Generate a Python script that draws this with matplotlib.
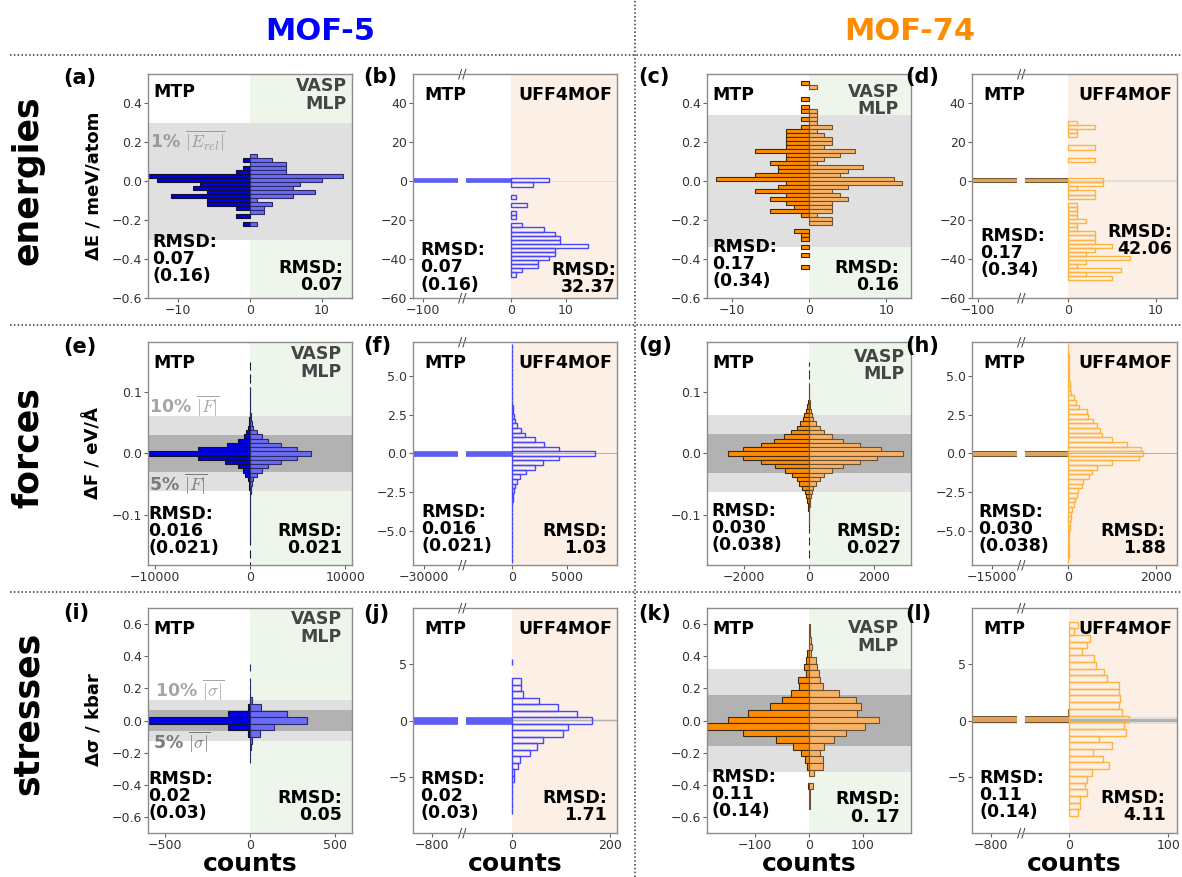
import numpy as np
import matplotlib
matplotlib.use("Agg")
import matplotlib.pyplot as plt
from matplotlib.patches import Rectangle
from matplotlib.lines import Line2D

plt.rcParams['font.family'] = 'DejaVu Sans'
plt.rcParams['mathtext.fontset'] = 'cm'

# ---------------- data (counts per bin, top bin first) ----------------
# MOF-5 energies (meV/atom)
a_top, a_w = 0.1385, 0.0205
a_mtp = [0, 1, 0, 1, 2, 16, 13, 7, 8, 6, 11, 6, 6, 2, 0, 2, 0, 1]
a_vasp = [1, 3, 5, 5, 5, 13, 10, 7, 6, 9, 6, 1, 3, 2, 2, 0, 0, 1]
b_top, b_w = 1.4, 2.1
b_uff = [7, 4, 0, 0, 1, 0, 3, 0, 1, 1, 0, 2, 6, 8, 9, 9, 14, 8, 8, 7, 5, 5, 2, 1]
b_mtp = [200]
# MOF-74 energies
c_top, c_w = 0.5125, 0.0205
c_mtp = [1, 0, 0, 0, 1, 0, 1, 1, 0, 1, 0, 1, 3, 3, 3, 3, 3, 7, 3, 3, 5, 4, 4, 7, 12, 3, 4, 7,
         3, 5, 3, 2, 5, 1, 0, 0, 0, 2, 1, 1, 0, 1, 0, 1, 0, 0, 1]
c_vasp = [0, 1, 0, 0, 0, 0, 0, 1, 1, 1, 1, 3, 1, 2, 3, 3, 2, 6, 4, 2, 1, 7, 5, 4, 11, 12, 5, 3,
          4, 5, 3, 3, 3, 1, 3, 3, 0, 0, 0, 0, 0, 0, 0, 0, 0, 0, 0]
d_top, d_w = 30.9, 2.1
d_uff = [1, 3, 1, 1, 0, 0, 3, 0, 0, 3, 0, 0, 0, 0, 4, 4, 1, 3, 3, 0, 1, 1, 1, 1, 2, 1, 1, 3, 3,
         3, 5, 3, 2, 7, 2, 1, 6, 2, 5]
d_mtp = [0] * 14 + [200]
# MOF-5 forces (eV/A)
e_top, e_w = 0.0069 * 21.5, 0.0069
e_mtp = [1, 1, 0, 1, 1, 0, 2, 3, 5, 8, 12, 20, 40, 70, 130, 230, 400, 620, 1270, 2400, 5500, 11500,
         5500, 2650, 1270, 780, 550, 230, 130, 80, 50, 30, 20, 14, 10, 8, 6, 5, 4, 3, 2, 2, 1, 0, 1, 1, 0, 1]
e_vasp = [0, 0, 0, 0, 0, 0, 1, 2, 4, 7, 20, 40, 70, 120, 200, 360, 700, 1300, 1900, 3200, 4900, 6400,
          4900, 3200, 1900, 1300, 700, 360, 200, 120, 70, 40, 25, 15, 10, 6, 4, 3, 2, 1, 1, 1, 0, 0, 0, 0, 0, 0]
f_top, f_w = 0.3 * 23.5, 0.3
f_uff = [1, 2, 3, 4, 5, 6, 8, 10, 15, 20, 30, 40, 50, 70, 100, 150, 300, 450, 800, 1200, 2100, 2930, 4280,
         7550,
         4280, 2840, 2100, 1250, 750, 450, 300, 150, 100, 70, 50, 40, 30, 20, 15, 10, 8, 6, 5, 4, 3, 2, 1]
f_mtp = [0] * 23 + [50000]
# MOF-74 forces
g_top, g_w = 0.0069 * 21.5, 0.0069
g_mtp = [1, 0, 1, 1, 0, 1, 3, 8, 15, 30, 70, 95, 145, 195, 280, 380, 540, 770, 1080, 1480, 2020, 2470,
         2020, 1480, 1030, 740, 510, 380, 300, 205, 125, 90, 70, 40, 25, 15, 8, 4, 2, 1, 0, 1, 1, 0, 1, 1, 0, 0]
g_vasp = [0, 0, 0, 0, 0, 1, 2, 5, 10, 18, 30, 50, 80, 130, 215, 340, 470, 700, 1025, 1570, 2200, 2880,
          2080, 1550, 1025, 700, 470, 340, 215, 130, 80, 50, 30, 18, 10, 5, 2, 1, 0, 0, 0, 0, 0, 0, 0, 0, 0, 0]
h_top, h_w = 0.3 * 23.5, 0.3
h_uff = [2, 3, 4, 6, 8, 10, 15, 20, 30, 40, 60, 120, 180, 250, 420, 450, 570, 650, 720, 760, 990, 1330, 1650,
         1700,
         1610, 990, 650, 550, 480, 340, 300, 230, 190, 150, 120, 90, 70, 60, 40, 30, 25, 20, 15, 10, 6, 4, 2]
h_mtp = [0] * 23 + [30000]
# MOF-5 stresses (kbar)
i_top, i_w = 0.041 * 8.5, 0.041
i_mtp = [0, 0, 0, 0, 0, 2, 10, 131, 650, 131, 10, 0, 0, 0, 0]
i_vasp = [1, 0, 1, 1, 2, 10, 63, 215, 337, 141, 59, 14, 5, 2, 1]
j_top, j_w = 0.57 * 9.5, 0.57
j_uff = [1, 0, 0, 18, 18, 22, 56, 94, 132, 163, 114, 105, 64, 52, 37, 16, 12, 5, 5, 1, 1, 1, 1, 1]
j_mtp = [0] * 9 + [2000]
# MOF-74 stresses
k_top, k_w = 0.6015, 0.0412
k_mtp = [0, 0, 0, 0, 3, 5, 9, 6, 21, 18, 33, 50, 72, 114, 151, 190, 123, 62, 29, 15, 7, 4, 0, 0, 2, 0, 0, 0]
k_vasp = [1, 1, 3, 5, 3, 13, 14, 18, 21, 26, 56, 87, 96, 89, 130, 105, 69, 46, 28, 21, 26, 26, 9, 0, 7, 1, 1, 1]
l_top, l_w = 8.7, 0.59
l_uff = [9, 5, 21, 18, 13, 25, 27, 35, 38, 50, 50, 51, 50, 53, 60, 55, 57, 30, 43, 24, 34, 40, 23, 18,
         16, 18, 11, 11, 9]
l_mtp = [0] * 13 + [16, 2000, 4]

# tolerance bands (+/-)
band_E5, band_E74 = [0.30], [0.34]
band_F5, band_F74 = [0.06, 0.03], [0.062, 0.031]
band_S5, band_S74 = [0.125, 0.0625], [0.32, 0.16]

rmsd_mtp = {'a': '0.07\n(0.16)', 'c': '0.17\n(0.34)', 'e': '0.016\n(0.021)',
            'g': '0.030\n(0.038)', 'i': '0.02\n(0.03)', 'k': '0.11\n(0.14)'}
rmsd_ref = {'a': '0.07', 'b': '32.37', 'c': '0.16', 'd': '42.06', 'e': '0.021', 'f': '1.03',
            'g': '0.027', 'h': '1.88', 'i': '0.05', 'j': '1.71', 'k': '0. 17', 'l': '4.11'}

# ---------------- styles ----------------
B_MTP = dict(color='#0000e8', edgecolor='#10102a', linewidth=0.8)
B_VASP = dict(color='#6b6bf3', edgecolor='#2a2a6a', linewidth=0.8)
B_UFF = dict(color='none', edgecolor='#4646ff', linewidth=1.0)
B_FAR = dict(color='#5e5ef2', edgecolor='#5e5ef2', linewidth=0.5)
O_MTP = dict(color='#ff8c00', edgecolor='#3d2a12', linewidth=0.8)
O_VASP = dict(color='#f7b265', edgecolor='#6e5230', linewidth=0.8)
O_UFF = dict(color='none', edgecolor='#ffb340', linewidth=1.0)
O_FAR = dict(color='#dfa25a', edgecolor='#5a4020', linewidth=0.6)
GREEN_BG, ORANGE_BG = '#eef5ea', '#fcefe5'
BAND_LIGHT, BAND_DARK = '#e0e0e0', '#b2b2b2'

W, H = 1182, 877
fig = plt.figure(figsize=(W / 100, H / 100), dpi=100)
col_x = [(148, 352), (413, 617), (707, 911), (972, 1177)]
row_y = [(74, 298), (342, 565), (608, 833)]


def make_ax(r, c):
    x0, x1 = col_x[c]
    y0, y1 = row_y[r]
    return fig.add_axes([x0 / W, 1 - y1 / H, (x1 - x0) / W, (y1 - y0) / H])


def hbars(ax, top, w, counts, side, style):
    counts = np.asarray(counts, float)
    y = top - w * (np.arange(len(counts)) + 0.5)
    m = counts > 0
    ax.barh(y[m], side * counts[m], height=w, zorder=3, **style)


def broken_x(ax, xl, xr, f0):
    def fwd(x):
        x = np.asarray(x, float)
        return np.where(x < 0, x / -xl * f0, x / xr * (1 - f0))

    def inv(u):
        u = np.asarray(u, float)
        return np.where(u < 0, u / f0 * -xl, u / (1 - f0) * xr)
    ax.set_xscale('function', functions=(fwd, inv))
    ax.set_xlim(xl, xr)
    ax.add_patch(Rectangle((0.22, 0), 0.038, 1, transform=ax.transAxes, color='white', zorder=4, lw=0))
    for yy in (0, 1):
        ax.text(0.24, yy, '//', transform=ax.transAxes, ha='center', va='center', fontsize=9,
                color='#444444', zorder=7, clip_on=False)


def lab(v):
    s = ('%g' % v) if not isinstance(v, str) else v
    return s.replace('-', '\u2212')


def style_ax(ax, xt, xtl, yt, ytl, ylim):
    ax.set_ylim(*ylim)
    ax.set_xticks(xt)
    ax.set_xticklabels(xtl)
    ax.set_yticks(yt)
    ax.set_yticklabels(ytl)
    ax.tick_params(labelsize=9, labelcolor='#333333', color='#666666', length=3, width=0.8, pad=1.5)
    for s in ax.spines.values():
        s.set_color('#8c8c8c')
        s.set_linewidth(1.0)
        s.set_zorder(8)


def bands(ax, b):
    cols = [BAND_LIGHT, BAND_DARK]
    for v, c in zip(b, cols):
        ax.axhspan(-v, v, color=c, zorder=1, lw=0)


def txt(ax, x, y, s, ha='left', va='top', color='black', size=12.5):
    ax.text(x, y, s, transform=ax.transAxes, ha=ha, va=va, color=color, fontsize=size,
            fontweight='bold', linespacing=0.95, zorder=6, multialignment=ha)


def band_label(ax, x, y, s, color):
    ax.text(x, y, s, transform=ax.get_yaxis_transform(), ha='left', va='center', color=color,
            fontsize=12.5, fontweight='bold', zorder=6)


ylims = {0: (-0.6, 0.55), 1: (-0.18, 0.18), 2: (-0.7, 0.7)}
ylims_u = {0: (-60, 55), 1: (-7.2, 7.2), 2: (-9.9, 9.9)}
yt_l = {0: [-0.6, -0.4, -0.2, 0, 0.2, 0.4], 1: [-0.1, 0, 0.1], 2: [-0.6, -0.4, -0.2, 0, 0.2, 0.4, 0.6]}
ytl_l = {0: ['\u22120.6', '\u22120.4', '\u22120.2', '0.0', '0.2', '0.4'],
         1: ['\u22120.1', '0.0', '0.1'],
         2: ['\u22120.6', '\u22120.4', '\u22120.2', '0.0', '0.2', '0.4', '0.6']}
yt_u = {0: [-60, -40, -20, 0, 20, 40], 1: [-5, -2.5, 0, 2.5, 5], 2: [-5, 0, 5]}
ytl_u = {0: ['\u221260', '\u221240', '\u221220', '0', '20', '40'],
         1: ['\u22125.0', '\u22122.5', '0.0', '2.5', '5.0'],
         2: ['\u22125', '0', '5']}

left_panels = [
    # letter, row, col, top, w, mtp, ref, mtp style, ref style, bands, xlim, xticks
    ('a', 0, 0, a_top, a_w, a_mtp, a_vasp, B_MTP, B_VASP, band_E5, 14.2, [-10, 0, 10]),
    ('c', 0, 2, c_top, c_w, c_mtp, c_vasp, O_MTP, O_VASP, band_E74, 13.2, [-10, 0, 10]),
    ('e', 1, 0, e_top, e_w, e_mtp, e_vasp, B_MTP, B_VASP, band_F5, 10700, [-10000, 0, 10000]),
    ('g', 1, 2, g_top, g_w, g_mtp, g_vasp, O_MTP, O_VASP, band_F74, 3120, [-2000, 0, 2000]),
    ('i', 2, 0, i_top, i_w, i_mtp, i_vasp, B_MTP, B_VASP, band_S5, 600, [-500, 0, 500]),
    ('k', 2, 2, k_top, k_w, k_mtp, k_vasp, O_MTP, O_VASP, band_S74, 190, [-100, 0, 100]),
]
uff_panels = [
    # letter, row, col, top, w, mtp, uff, mtp style, uff style, bands, xl, xr, f0, xticks
    ('b', 0, 1, b_top, b_w, b_mtp, b_uff, B_FAR, B_UFF, band_E5, -111, 19.3, 0.48, [-100, 0, 10]),
    ('d', 0, 3, d_top, d_w, d_mtp, d_uff, O_FAR, O_UFF, band_E74, -107, 12.4, 0.47, [-100, 0, 10]),
    ('f', 1, 1, f_top, f_w, f_mtp, f_uff, B_FAR, B_UFF, band_F5, -33750, 9545, 0.485, [-30000, 0, 5000]),
    ('h', 1, 3, h_top, h_w, h_mtp, h_uff, O_FAR, O_UFF, band_F74, -18950, 2477, 0.47, [-15000, 0, 2000]),
    ('j', 2, 1, j_top, j_w, j_mtp, j_uff, B_FAR, B_UFF, band_S5, -990, 214, 0.484, [-800, 0, 200]),
    ('l', 2, 3, l_top, l_w, l_mtp, l_uff, O_FAR, O_UFF, band_S74, -995, 109, 0.475, [-800, 0, 100]),
]

# text placement (axes fractions)
mtp_pos = {'a': 0.962}
vasp_pos = {'a': (0.975, 0.985), 'c': (0.94, 0.96), 'e': (0.95, 0.985), 'g': (0.97, 0.975),
            'i': (0.95, 0.99), 'k': (0.94, 0.95)}
lrmsd_pos = {'a': (0.02, 0.057), 'b': (0.035, 0.02), 'c': (0.025, 0.035), 'd': (0.04, 0.084),
             'e': (0.0, 0.035), 'f': (0.04, 0.044), 'g': (0.02, 0.048), 'h': (0.03, 0.044),
             'i': (0.0, 0.048), 'j': (0.035, 0.048), 'k': (0.02, 0.057), 'l': (0.035, 0.052)}
rrmsd_pos = {'a': (0.955, 0.018), 'b': (0.995, 0.008), 'c': (0.94, 0.018), 'd': (0.975, 0.178),
             'e': (0.95, 0.036), 'f': (0.95, 0.036), 'g': (0.95, 0.036), 'h': (0.945, 0.036),
             'i': (0.95, 0.04), 'j': (0.95, 0.04), 'k': (0.945, 0.032), 'l': (0.945, 0.04)}
pair = {'b': 'a', 'd': 'c', 'f': 'e', 'h': 'g', 'j': 'i', 'l': 'k'}

for (L, r, c, top, w, mtp, ref, smtp, sref, bd, xm, xt) in left_panels:
    ax = make_ax(r, c)
    ax.axvspan(0, xm, color=GREEN_BG, zorder=0, lw=0)
    bands(ax, bd)
    hbars(ax, top, w, mtp, -1, smtp)
    hbars(ax, top, w, ref, 1, sref)
    ax.set_xlim(-xm, xm)
    style_ax(ax, xt, [lab(v) for v in xt], yt_l[r], ytl_l[r], ylims[r])
    txt(ax, 0.025, mtp_pos.get(L, 0.945), 'MTP')
    vx, vy = vasp_pos[L]
    txt(ax, vx, vy, 'VASP\nMLP', ha='right', color='#454545')
    lx, ly = lrmsd_pos[L]
    txt(ax, lx, ly, 'RMSD:\n' + rmsd_mtp[L], va='bottom')
    rx, ry = rrmsd_pos[L]
    txt(ax, rx, ry, 'RMSD:\n' + rmsd_ref[L], ha='right', va='bottom')
    if L == 'a':
        band_label(ax, 0.01, 0.21, r'1% $\overline{|E_{rel}|}$', '#9a9a9a')
    if L == 'e':
        band_label(ax, 0.005, 0.077, r'10% $\overline{|F|}$', '#a6a6a6')
        band_label(ax, 0.005, -0.048, r'5% $\overline{|F|}$', '#7a7a7a')
    if L == 'i':
        band_label(ax, 0.035, 0.19, r'10% $\overline{|\sigma|}$', '#a6a6a6')
        band_label(ax, 0.025, -0.13, r'5% $\overline{|\sigma|}$', '#7a7a7a')

for (L, r, c, top, w, mtp, uff, smtp, suff, bd, xl, xr, f0, xt) in uff_panels:
    ax = make_ax(r, c)
    broken_x(ax, xl, xr, f0)
    ax.axvspan(0, xr, color=ORANGE_BG, zorder=0, lw=0)
    bands(ax, bd)
    hbars(ax, top, w, mtp, -1, smtp)
    hbars(ax, top, w, uff, 1, suff)
    style_ax(ax, xt, [lab(v) for v in xt], yt_u[r], ytl_u[r], ylims_u[r])
    txt(ax, 0.055, 0.945, 'MTP')
    txt(ax, 0.975, 0.945, 'UFF4MOF', ha='right')
    lx, ly = lrmsd_pos[L]
    txt(ax, lx, ly, 'RMSD:\n' + rmsd_mtp[pair[L]], va='bottom')
    rx, ry = rrmsd_pos[L]
    txt(ax, rx, ry, 'RMSD:\n' + rmsd_ref[L], ha='right', va='bottom')

# panel letters
letters = [('(a)', 63, 78), ('(b)', 363, 77), ('(c)', 638, 77), ('(d)', 905, 77),
           ('(e)', 63, 347), ('(f)', 363, 346), ('(g)', 638, 346), ('(h)', 905, 346),
           ('(i)', 63, 613), ('(j)', 363, 614), ('(k)', 638, 614), ('(l)', 905, 614)]
for s, x, y in letters:
    fig.text(x / W, 1 - y / H, s, ha='left', va='center', fontsize=15, fontweight='bold')

# column titles, row labels, axis labels
fig.text(320 / W, 1 - 32 / H, 'MOF-5', ha='center', va='center', fontsize=22, fontweight='bold', color='#0000ff')
fig.text(910 / W, 1 - 32 / H, 'MOF-74', ha='center', va='center', fontsize=22, fontweight='bold', color='#ff8c00')
for s, y in [('energies', 180), ('forces', 448), ('stresses', 713)]:
    fig.text(28 / W, 1 - y / H, s, rotation=90, ha='center', va='center', fontsize=25, fontweight='bold')
for s, y in [('\u0394E / meV/atom', 186), ('\u0394F / eV/\u00c5', 453), ('\u0394\u03c3 / kbar', 720)]:
    fig.text(93 / W, 1 - y / H, s, rotation=90, ha='center', va='center', fontsize=13, fontweight='bold')
for c in range(4):
    x0, x1 = col_x[c]
    fig.text((x0 + x1) / 2 / W, 1.0 / H, 'counts', ha='center', va='bottom', fontsize=18,
             fontweight='bold')

# dotted separators
for y in (55, 325, 592):
    fig.add_artist(Line2D([10 / W, 1], [1 - y / H, 1 - y / H], transform=fig.transFigure,
                          ls=(0, (1, 1.5)), color='#333333', lw=1.1))
fig.add_artist(Line2D([635 / W, 635 / W], [0, 1], transform=fig.transFigure,
                      ls=(0, (1, 1.5)), color='#333333', lw=1.1))

fig.savefig('out.png', dpi=100)
